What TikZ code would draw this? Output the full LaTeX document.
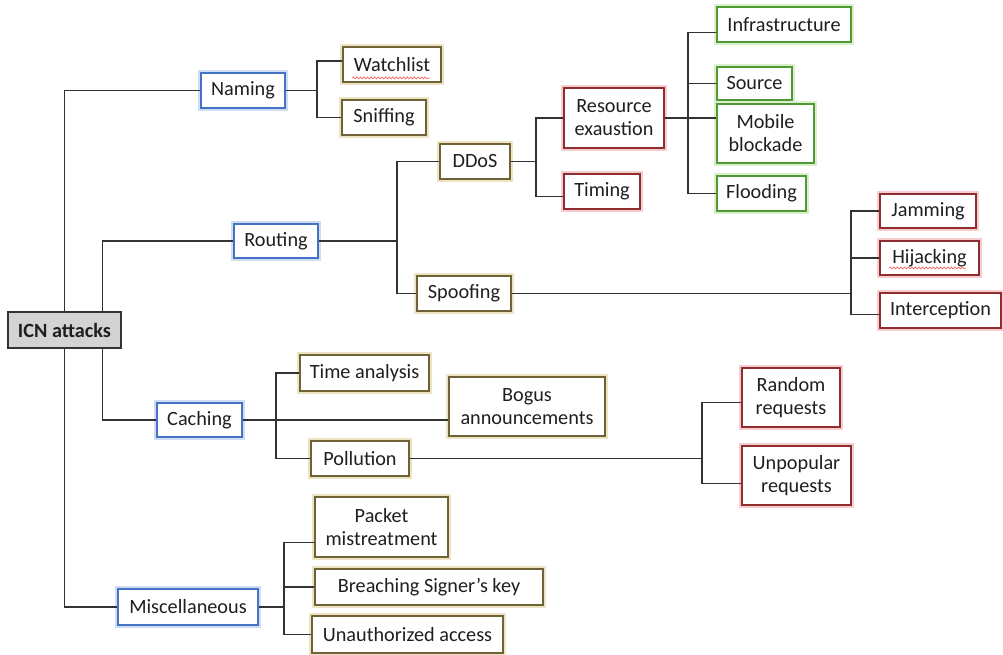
\documentclass[tikz,border=0pt]{standalone}
\usepackage{fontspec}
\setmainfont{Carlito}
\usetikzlibrary{calc,decorations.pathmorphing}
\definecolor{blau}{HTML}{4472C4}
\definecolor{blaul}{HTML}{CFDDF3}
\definecolor{oliv}{HTML}{6E6236}
\definecolor{olivl}{HTML}{ECE4C2}
\definecolor{rot}{HTML}{8E2C30}
\definecolor{rotl}{HTML}{F5CDCE}
\definecolor{gruen}{HTML}{4F9A34}
\definecolor{gruenl}{HTML}{DAF0CC}
\definecolor{grau}{HTML}{333333}
\definecolor{hgrau}{HTML}{D3D3D3}
\definecolor{schrift}{HTML}{1F1F1F}
\tikzset{
  kasten/.style={fill=white,line width=1.3pt,inner sep=0pt,align=center,
    minimum height=0.875cm,font=\fontsize{14.4}{16.3}\selectfont,text=schrift},
  kblau/.style={kasten,draw=blau,preaction={draw=blaul,line width=4.5pt}},
  koliv/.style={kasten,draw=oliv,preaction={draw=olivl,line width=4.5pt}},
  krot/.style={kasten,draw=rot,preaction={draw=rotl,line width=4.5pt}},
  kgruen/.style={kasten,draw=gruen,preaction={draw=gruenl,line width=4.5pt}},
  wurzel/.style={fill=hgrau,draw=grau,line width=2pt,inner sep=0pt,
    font=\fontsize{14.4}{16.3}\selectfont\bfseries,text=schrift},
  linie/.style={grau,line width=0.9pt},
  wellig/.style={red!60,line width=0.5pt,decorate,
    decoration={snake,segment length=0.09cm,amplitude=0.025cm}},
}
\begin{document}
\begin{tikzpicture}[x=0.025cm,y=-0.025cm]
  \useasboundingbox (0,0) rectangle (1003,655);
  % Wurzel
  \node[wurzel,minimum width=2.825cm,minimum height=0.9cm] (icn) at (64.5,330) {ICN attacks};
  % erste Ebene
  \node[kblau,minimum width=2.1cm] (naming) at (243,90.5) {Naming};
  \node[kblau,minimum width=2.1cm,minimum height=0.85cm] (routing) at (276,241) {Routing};
  \node[kblau,minimum width=2.125cm,minimum height=0.85cm] (caching) at (199.5,420) {Caching};
  \node[kblau,minimum width=3.5cm,minimum height=0.9cm] (misc) at (188,607) {Miscellaneous};
  % Naming
  \node[koliv,minimum width=2.45cm] (watchlist) at (392,64.5) {Watchlist};
  \node[koliv,minimum width=2.1cm] (sniffing) at (384,117.5) {Sniffing};
  % Routing
  \node[koliv,minimum width=1.75cm] (ddos) at (475,161.5) {DDoS};
  \node[koliv,minimum width=2.35cm] (spoofing) at (464,293.5) {Spoofing};
  \node[krot,minimum width=2.5cm,minimum height=1.5cm] (resource) at (614,118) {Resource\\exaustion};
  \node[krot,minimum width=1.9cm] (timing) at (602,191.5) {Timing};
  \node[kgruen,minimum width=3.35cm] (infra) at (784,24.5) {Infrastructure};
  \node[kgruen,minimum width=1.875cm,minimum height=0.825cm] (source) at (754.5,83.5) {Source};
  \node[kgruen,minimum width=2.425cm,minimum height=1.475cm] (mobile) at (765.5,133.5) {Mobile\\blockade};
  \node[kgruen,minimum width=2.225cm] (flooding) at (761.5,193.5) {Flooding};
  \node[krot,minimum width=2.4cm,minimum height=0.85cm] (jamming) at (928,211) {Jamming};
  \node[krot,minimum width=2.475cm,minimum height=0.85cm] (hijacking) at (929.5,258) {Hijacking};
  \node[krot,minimum width=3.025cm] (interception) at (940.5,310.5) {Interception};
  % Caching
  \node[koliv,minimum width=3.225cm,minimum height=0.9cm] (timeana) at (364.5,373) {Time analysis};
  \node[koliv,minimum width=3.9cm,minimum height=1.475cm] (bogus) at (527,406.5) {Bogus\\announcements};
  \node[koliv,minimum width=2.45cm] (pollution) at (360,458.5) {Pollution};
  \node[krot,minimum width=2.45cm,minimum height=1.475cm] (random) at (791,397.5) {Random\\requests};
  \node[krot,minimum width=2.725cm,minimum height=1.475cm] (unpopular) at (796.5,475.5) {Unpopular\\requests};
  % Miscellaneous
  \node[koliv,minimum width=3.325cm,minimum height=1.5cm] (packet) at (381.5,527) {Packet\\mistreatment};
  \node[koliv,minimum width=5.7cm,minimum height=0.9cm] (breaching) at (429,587) {Breaching Signer’s key};
  \node[koliv,minimum width=4.775cm,minimum height=0.925cm] (unauth) at (407.5,634.5) {Unauthorized access};
  % Verzweigungen
  \coordinate (jnam) at ($(naming.east)+(31,0)$);
  \coordinate (jrout) at ($(routing.east)+(78,0)$);
  \coordinate (jddos) at ($(ddos.east)+(25,0)$);
  \coordinate (jres) at ($(resource.east)+(23,0)$);
  \coordinate (jspoof) at ($(spoofing.east)+(339,0)$);
  \coordinate (jcach) at ($(caching.east)+(33,0)$);
  \coordinate (jpoll) at ($(pollution.east)+(292,0)$);
  \coordinate (jmisc) at ($(misc.east)+(25,0)$);
  \draw[linie] (icn.north) |- (naming.west);
  \draw[linie] ($(icn.north)+(38,0)$) |- (routing.west);
  \draw[linie] ($(icn.south)+(38,0)$) |- (caching.west);
  \draw[linie] (icn.south) |- (misc.west);
  \draw[linie] (naming.east) -- (jnam);
  \draw[linie] (watchlist.176) -| (jnam) |- (sniffing.west);
  \draw[linie] (routing.east) -- (jrout);
  \draw[linie] (ddos.west) -| (jrout) |- (spoofing.west);
  \draw[linie] (ddos.east) -- (jddos);
  \draw[linie] (resource.west) -| (jddos) |- (timing.187);
  \draw[linie] (resource.east) -- (resource.east -| mobile.west);
  \draw[linie] (infra.187) -| (jres) |- (flooding.west);
  \draw[linie] (source.west) -| (jres);
  \draw[linie] (spoofing.east) -- (jspoof);
  \draw[linie] (jamming.west) -| (jspoof) |- (interception.184);
  \draw[linie] (hijacking.west) -| (jspoof);
  \draw[linie] (caching.east) -- (caching.east -| bogus.west);
  \draw[linie] (timeana.west) -| (jcach) |- (pollution.west);
  \draw[linie] (pollution.east) -- (jpoll);
  \draw[linie] (random.186) -| (jpoll) |- (unpopular.188);
  \draw[linie] (misc.east) -- (jmisc);
  \draw[linie] (packet.193) -| (jmisc) |- (unauth.west);
  \draw[linie] (breaching.west) -| (jmisc);
  % Rechtschreibmarken
  \draw[wellig] ($(watchlist.south west)+(10,-5)$) -- ($(watchlist.south east)+(-12,-5)$);
  \draw[wellig] ($(hijacking.south west)+(10,-8)$) -- ($(hijacking.south east)+(-14,-8)$);
\end{tikzpicture}
\end{document}
